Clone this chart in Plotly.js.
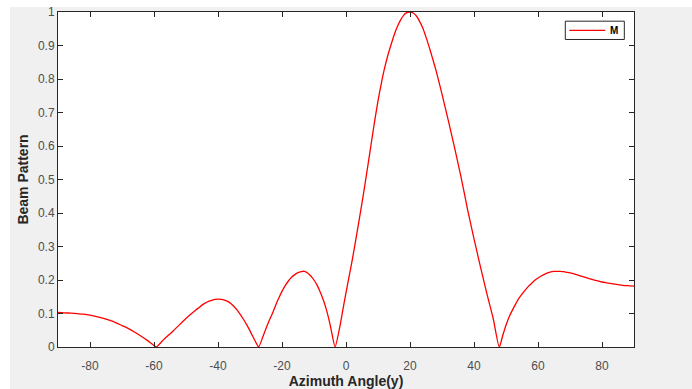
<!DOCTYPE html>
<html>
<head>
<meta charset="utf-8">
<script src="https://cdn.plot.ly/plotly-3.0.1.min.js"></script>
<style>
  html, body { margin: 0; padding: 0; background: #ffffff; width: 692px; height: 389px; overflow: hidden; }
  #bg { position: absolute; left: 10px; top: 7px; width: 682px; height: 382px; background: #f0f0f0; }
  #chart { position: absolute; left: 0; top: 0; width: 692px; height: 389px; }
</style>
</head>
<body>
<div id="bg"></div>
<div id="chart"></div>
<script>
// Azimuth angles (degrees)
const angles = [
  -90, -88, -86, -84, -82, -80, -78, -76, -74, -72,
  -70, -68, -66, -64, -62, -60.5, -59.3, -57, -54, -51,
  -49, -47, -46, -45, -44, -43, -42, -41, -40, -39,
  -38, -37, -36, -35, -34, -33, -32, -31, -30, -29,
  -28, -27.3, -26, -25, -24, -23, -22, -21, -20, -19,
  -18, -17, -16, -15, -14, -13, -12, -11, -10, -9,
  -8, -7, -6, -5, -4.5, -3.4, -2, -1, 0, 1,
  2, 3, 4, 5, 6, 7, 8, 9, 10, 11,
  12, 13, 14, 15, 16, 17, 18, 19, 20, 21,
  22, 23, 24, 25, 26, 27, 28, 29, 30, 32,
  34, 36, 38, 40, 42, 44, 46, 47.9, 49, 50,
  51, 52, 53, 54, 55, 56, 57, 58, 59, 60,
  61, 62, 63, 64, 65, 66, 67, 68, 69, 70,
  72, 74, 76, 78, 80, 82, 84, 86, 88, 90
];
// Beam pattern values
const beam = [
  0.103, 0.102, 0.101, 0.0995, 0.098, 0.095, 0.091, 0.086, 0.080, 0.073,
  0.064, 0.055, 0.044, 0.032, 0.019, 0.008, 0, 0.022, 0.048, 0.076,
  0.094, 0.110, 0.117, 0.125, 0.131, 0.136, 0.139, 0.142, 0.143, 0.142,
  0.140, 0.136, 0.130, 0.121, 0.110, 0.097, 0.082, 0.066, 0.048, 0.029,
  0.011, 0, 0.030, 0.055, 0.079, 0.100, 0.124, 0.146, 0.166, 0.183,
  0.197, 0.208, 0.216, 0.222, 0.225, 0.226, 0.221, 0.212, 0.200, 0.184,
  0.163, 0.138, 0.107, 0.068, 0.045, 0, 0.057, 0.110, 0.162, 0.212,
  0.262, 0.317, 0.373, 0.430, 0.490, 0.552, 0.615, 0.677, 0.735, 0.785,
  0.830, 0.868, 0.900, 0.930, 0.955, 0.975, 0.990, 0.998, 1.0, 0.997,
  0.988, 0.972, 0.952, 0.925, 0.895, 0.863, 0.830, 0.793, 0.755, 0.675,
  0.592, 0.505, 0.410, 0.323, 0.240, 0.160, 0.085, 0, 0.035, 0.065,
  0.090, 0.110, 0.128, 0.145, 0.158, 0.170, 0.181, 0.190, 0.199, 0.206,
  0.212, 0.217, 0.221, 0.224, 0.2255, 0.226, 0.2258, 0.2248, 0.223, 0.221,
  0.216, 0.210, 0.204, 0.199, 0.194, 0.191, 0.188, 0.185, 0.183, 0.182
];
const seriesName = 'M';
const xTicks = [-80, -60, -40, -20, 0, 20, 40, 60, 80];
const yTicks = [0, 0.1, 0.2, 0.3, 0.4, 0.5, 0.6, 0.7, 0.8, 0.9, 1];
const yTickText = ['0', '0.1', '0.2', '0.3', '0.4', '0.5', '0.6', '0.7', '0.8', '0.9', '1'];

const axisColor = '#262626';
const lineColor = '#ff0000';
const fontFam = 'Liberation Sans, Arial, sans-serif';
const tickFont = { family: fontFam, size: 12, color: '#4d4d4d' };
const titleFont = { family: fontFam, size: 14, color: '#262626', weight: 'bold' };

const trace = {
  x: angles, y: beam, type: 'scatter', mode: 'lines', name: seriesName,
  line: { color: lineColor, width: 1.3, shape: 'spline', smoothing: 0.6, simplify: false },
  showlegend: false
};

// legend box drawn in paper coordinates
const lg = { x0: 0.8807, x1: 0.9832, y0: 0.918, y1: 0.9726, lx0: 0.8878, lx1: 0.9503, ly: 0.9449, tx: 0.9645 };

const layout = {
  width: 692, height: 389,
  paper_bgcolor: 'rgba(0,0,0,0)', plot_bgcolor: '#ffffff',
  margin: { l: 58, r: 58, t: 12, b: 42, pad: 0 },
  showlegend: false,
  xaxis: {
    range: [-90, 90], tickvals: xTicks, ticktext: xTicks.map(String),
    ticks: 'inside', ticklen: 5, tickcolor: axisColor, tickwidth: 1,
    showline: true, linecolor: axisColor, linewidth: 1, mirror: 'ticks',
    showgrid: false, zeroline: false, tickfont: tickFont, ticklabelstandoff: 8,
    title: { text: 'Azimuth Angle(y)', font: titleFont, standoff: 2 }
  },
  yaxis: {
    range: [0, 1], tickvals: yTicks, ticktext: yTickText,
    ticks: 'inside', ticklen: 5, tickcolor: axisColor, tickwidth: 1,
    showline: true, linecolor: axisColor, linewidth: 1, mirror: 'ticks',
    showgrid: false, zeroline: false, tickfont: tickFont, ticklabeloverflow: 'allow',
    title: { text: 'Beam Pattern', font: titleFont, standoff: 6 }
  },
  shapes: [
    { type: 'rect', xref: 'paper', yref: 'paper', x0: lg.x0, x1: lg.x1, y0: lg.y0, y1: lg.y1,
      line: { color: axisColor, width: 1 }, fillcolor: '#ffffff', layer: 'above' },
    { type: 'line', xref: 'paper', yref: 'paper', x0: lg.lx0, x1: lg.lx1, y0: lg.ly, y1: lg.ly,
      line: { color: lineColor, width: 1.3 }, layer: 'above' }
  ],
  annotations: [
    { xref: 'paper', yref: 'paper', x: lg.tx, y: lg.ly, xanchor: 'center', yanchor: 'middle',
      text: seriesName, showarrow: false, font: { family: fontFam, size: 10, color: '#000000', weight: 'bold' } }
  ]
};

Plotly.newPlot('chart', [trace], layout, { displayModeBar: false, staticPlot: true });
</script>
</body>
</html>
